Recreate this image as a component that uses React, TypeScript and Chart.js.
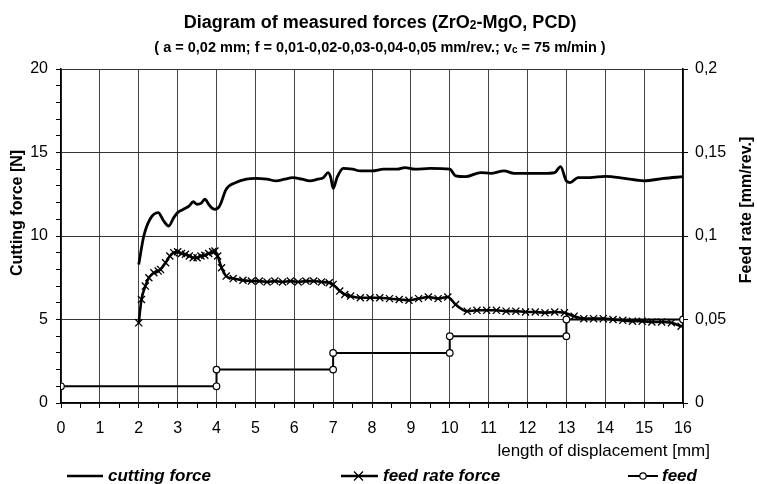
import React, { useEffect, useRef } from "react";
import { Chart, registerables } from "chart.js";
Chart.register(...registerables);

// ---- data ----
const cuttingForceX = [2.0, 2.13, 2.3, 2.5, 2.64, 2.77, 2.9, 3.0, 3.15, 3.3, 3.4, 3.5, 3.6, 3.7, 3.8, 3.87, 3.96, 4.08, 4.25, 4.5, 4.77, 5.0, 5.3, 5.54, 5.75, 5.96, 6.2, 6.4, 6.6, 6.75, 6.87, 6.94, 7.0, 7.1, 7.26, 7.5, 7.7, 8.0, 8.3, 8.65, 8.85, 9.1, 9.5, 10.0, 10.15, 10.4, 10.8, 11.05, 11.4, 11.65, 12.0, 12.4, 12.7, 12.85, 13.0, 13.1, 13.3, 13.6, 14.0, 14.5, 15.0, 15.5, 16.0];
const cuttingForceY = [8.3, 10.0, 11.05, 11.4, 10.9, 10.6, 11.1, 11.4, 11.6, 11.8, 12.05, 11.9, 11.95, 12.2, 11.9, 11.7, 11.6, 11.8, 12.8, 13.2, 13.4, 13.45, 13.4, 13.3, 13.4, 13.5, 13.4, 13.3, 13.4, 13.5, 13.8, 13.5, 12.85, 13.5, 14.05, 14.0, 13.9, 13.9, 14.0, 14.0, 14.1, 14.0, 14.05, 14.0, 13.6, 13.55, 13.8, 13.75, 13.9, 13.75, 13.75, 13.75, 13.8, 14.15, 13.3, 13.2, 13.5, 13.5, 13.57, 13.45, 13.3, 13.45, 13.55];

const feedRateForceX = [2.0, 2.07, 2.17, 2.26, 2.39, 2.5, 2.56, 2.69, 2.8, 2.9, 3.0, 3.1, 3.2, 3.3, 3.4, 3.5, 3.6, 3.7, 3.8, 3.9, 3.96, 4.03, 4.13, 4.25, 4.43, 4.68, 4.9, 5.1, 5.3, 5.5, 5.7, 5.9, 6.1, 6.3, 6.5, 6.7, 6.9, 7.0, 7.17, 7.3, 7.45, 7.7, 7.95, 8.2, 8.45, 8.7, 8.95, 9.2, 9.45, 9.7, 9.95, 10.15, 10.45, 10.7, 10.95, 11.2, 11.45, 11.7, 11.95, 12.2, 12.45, 12.7, 12.95, 13.2, 13.45, 13.7, 13.95, 14.2, 14.45, 14.7, 14.95, 15.2, 15.45, 15.7, 15.95];
const feedRateForceY = [4.8, 6.2, 7.0, 7.5, 7.8, 7.9, 8.0, 8.4, 8.8, 9.0, 9.05, 8.95, 8.9, 8.8, 8.7, 8.7, 8.8, 8.85, 8.95, 9.05, 9.1, 8.8, 8.1, 7.6, 7.45, 7.35, 7.3, 7.3, 7.25, 7.3, 7.25, 7.3, 7.25, 7.3, 7.3, 7.25, 7.2, 7.1, 6.7, 6.5, 6.4, 6.3, 6.3, 6.3, 6.25, 6.2, 6.15, 6.25, 6.35, 6.25, 6.35, 5.9, 5.5, 5.55, 5.55, 5.55, 5.5, 5.5, 5.45, 5.45, 5.4, 5.45, 5.4, 5.2, 5.05, 5.05, 5.05, 5.0, 4.95, 4.9, 4.9, 4.85, 4.85, 4.8, 4.6];

const feedX = [0, 4, 4, 7, 7, 10, 10, 13, 13, 16];
const feedY = [0.01, 0.01, 0.02, 0.02, 0.03, 0.03, 0.04, 0.04, 0.05, 0.05];

const leftTickLabels = ["0", "5", "10", "15", "20"];
const rightTickLabels = ["0", "0,05", "0,1", "0,15", "0,2"];

const titleText = "Diagram of measured forces (ZrO";
const titleSub = "2";
const titleRest = "-MgO, PCD)";
const subtitleText = "( a = 0,02 mm; f = 0,01-0,02-0,03-0,04-0,05 mm/rev.; v";
const subtitleSub = "c";
const subtitleRest = " = 75 m/min )";
const leftAxisTitle = "Cutting force [N]";
const rightAxisTitle = "Feed rate [mm/rev.]";
const xAxisTitle = "length of displacement [mm]";
const seriesNames = ["cutting force", "feed rate force", "feed"];

const FONT = "'Liberation Sans', Arial, sans-serif";

const zip = (xs: number[], ys: number[]) => xs.map((x, i) => ({ x, y: ys[i] }));

const textPlugin = {
  id: "texts",
  afterDraw(chart: any) {
    const ctx: CanvasRenderingContext2D = chart.ctx;
    ctx.save();
    ctx.fillStyle = "#000";
    ctx.strokeStyle = "#000";
    ctx.textBaseline = "alphabetic";

    const drawSub = (a: string, s: string, b: string, size: number, subSize: number, cx: number, y: number) => {
      ctx.font = `bold ${size}px ${FONT}`;
      const wa = ctx.measureText(a).width;
      const wb = ctx.measureText(b).width;
      ctx.font = `bold ${subSize}px ${FONT}`;
      const ws = ctx.measureText(s).width;
      let x = cx - (wa + ws + wb) / 2;
      ctx.textAlign = "left";
      ctx.font = `bold ${size}px ${FONT}`;
      ctx.fillText(a, x, y);
      x += wa;
      ctx.font = `bold ${subSize}px ${FONT}`;
      ctx.fillText(s, x, y + 1);
      x += ws;
      ctx.font = `bold ${size}px ${FONT}`;
      ctx.fillText(b, x, y);
    };
    drawSub(titleText, titleSub, titleRest, 18, 12, 380, 28);
    drawSub(subtitleText, subtitleSub, subtitleRest, 14.5, 10, 380, 52);

    // axis titles
    ctx.font = `bold 16px ${FONT}`;
    ctx.textAlign = "center";
    ctx.textBaseline = "middle";
    ctx.save();
    ctx.translate(18, 213);
    ctx.rotate(-Math.PI / 2);
    ctx.fillText(leftAxisTitle, 0, 0);
    ctx.restore();
    ctx.save();
    ctx.translate(747, 210);
    ctx.rotate(-Math.PI / 2);
    ctx.fillText(rightAxisTitle, 0, 0);
    ctx.restore();

    ctx.font = `17px ${FONT}`;
    ctx.textAlign = "right";
    ctx.fillText(xAxisTitle, 710, 451);

    // legend
    const ly = 476;
    ctx.font = `italic bold 17px ${FONT}`;
    ctx.textAlign = "left";
    ctx.lineWidth = 2.5;
    ctx.beginPath(); ctx.moveTo(67, ly); ctx.lineTo(103, ly); ctx.stroke();
    ctx.fillText(seriesNames[0], 108, ly);

    ctx.beginPath(); ctx.moveTo(341, ly); ctx.lineTo(378, ly); ctx.stroke();
    ctx.lineWidth = 1.3;
    ctx.beginPath();
    ctx.moveTo(354, ly - 4.5); ctx.lineTo(363, ly + 4.5);
    ctx.moveTo(363, ly - 4.5); ctx.lineTo(354, ly + 4.5);
    ctx.stroke();
    ctx.fillText(seriesNames[1], 383, ly);

    ctx.lineWidth = 2;
    ctx.beginPath(); ctx.moveTo(628, ly); ctx.lineTo(658, ly); ctx.stroke();
    ctx.lineWidth = 1.2;
    ctx.fillStyle = "#fff";
    ctx.beginPath(); ctx.arc(643, ly, 3.2, 0, Math.PI * 2); ctx.fill(); ctx.stroke();
    ctx.fillStyle = "#000";
    ctx.fillText(seriesNames[2], 662, ly);
    ctx.restore();
  },
};

export default function App() {
  const ref = useRef<HTMLCanvasElement>(null);
  useEffect(() => {
    const canvas = ref.current!;
    const tickFont = { family: FONT, size: 16 };
    const chart = new Chart(canvas, {
      type: "line",
      data: {
        datasets: [
          {
            label: seriesNames[2],
            data: zip(feedX, feedY),
            yAxisID: "y2",
            borderColor: "#000",
            borderWidth: 2,
            pointStyle: "circle",
            pointRadius: 3.3,
            pointBackgroundColor: "#fff",
            pointBorderColor: "#000",
            pointBorderWidth: 1.2,
            tension: 0,
            order: 0,
          },
          {
            label: seriesNames[1],
            data: zip(feedRateForceX, feedRateForceY),
            yAxisID: "y",
            borderColor: "#000",
            borderWidth: 2.6,
            pointStyle: "crossRot",
            pointRadius: 5,
            pointBorderColor: "#000",
            pointBorderWidth: 1.3,
            cubicInterpolationMode: "monotone",
            order: 1,
          },
          {
            label: seriesNames[0],
            data: zip(cuttingForceX, cuttingForceY),
            yAxisID: "y",
            borderColor: "#000",
            borderWidth: 2.8,
            pointRadius: 0,
            cubicInterpolationMode: "monotone",
            order: 2,
          },
        ],
      },
      options: {
        animation: false,
        responsive: false,
        devicePixelRatio: 1,
        layout: { padding: { top: 69, left: 0, right: 0, bottom: 0 } },
        plugins: { legend: { display: false }, title: { display: false }, tooltip: { enabled: false } },
        scales: {
          x: {
            type: "linear",
            min: 0,
            max: 16,
            ticks: {
              stepSize: 0.5,
              autoSkip: false,
              maxRotation: 0,
              padding: 11,
              color: "#000",
              font: tickFont,
              callback: (v: any) => (Number.isInteger(v) ? String(v) : ""),
            },
            grid: {
              color: (c: any) => (Number.isInteger(c.tick?.value) ? "#444" : "rgba(0,0,0,0)"),
              tickColor: "#000",
              tickLength: 5,
              lineWidth: 1,
            },
            border: { color: "#000", width: 1.5 },
            afterFit: (s: any) => { s.height = 81; },
          },
          y: {
            type: "linear",
            position: "left",
            min: 0,
            max: 20,
            ticks: {
              stepSize: 1,
              autoSkip: false,
              padding: 8,
              color: "#000",
              font: tickFont,
              callback: (v: any) => (v % 5 === 0 ? leftTickLabels[v / 5] : ""),
            },
            grid: {
              color: (c: any) => (c.tick && c.tick.value % 5 === 0 ? "#333" : "rgba(0,0,0,0)"),
              tickColor: "#000",
              tickLength: 5,
              lineWidth: 1,
            },
            border: { color: "#000", width: 1.5 },
            afterFit: (s: any) => { s.width = 61; },
          },
          y2: {
            type: "linear",
            position: "right",
            min: 0,
            max: 0.2,
            ticks: {
              stepSize: 0.05,
              autoSkip: false,
              padding: 7,
              color: "#000",
              font: tickFont,
              callback: (v: any) => rightTickLabels[Math.round(v / 0.05)] ?? "",
            },
            grid: { drawOnChartArea: false, tickColor: "#000", tickLength: 5 },
            border: { color: "#000", width: 1.5 },
            afterFit: (s: any) => { s.width = 74; },
          },
        },
      },
      plugins: [textPlugin],
    } as any);
    return () => chart.destroy();
  }, []);
  return (
    <div style={{ position: "absolute", left: 0, top: 0, width: 757, height: 484, background: "#fff" }}>
      <canvas ref={ref} width={757} height={484} style={{ width: 757, height: 484, display: "block" }} />
    </div>
  );
}
